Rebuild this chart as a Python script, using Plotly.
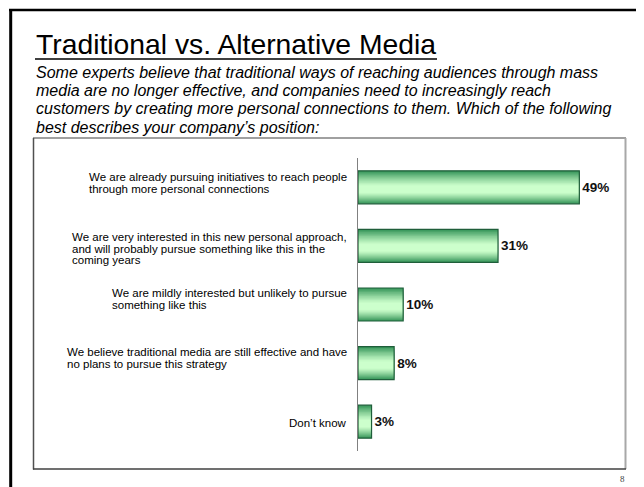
import plotly.graph_objects as go

# ---------------- data ----------------
categories = [
    "We are already pursuing initiatives to reach people|through more personal connections",
    "We are very interested in this new personal approach,|and will probably pursue something like this in the|coming years",
    "We are mildly interested but unlikely to pursue|something like this",
    "We believe traditional media are still effective and have|no plans to pursue this strategy",
    "Don’t know",
]
values = [49, 31, 10, 8, 3]

title_text = "Traditional vs. Alternative Media"
subtitle_lines = [
    "Some experts believe that traditional ways of reaching audiences through mass",
    "media are no longer effective, and companies need to increasingly reach",
    "customers by creating more personal connections to them. Which of the following",
    "best describes your company’s position:",
]
page_number = "8"

# ---------------- layout geometry (window pixels) ----------------
FW, FH = 644, 487
OFF = 8  # default page body margin
WL, WR, WT, WB = 358, 620, 158, 451
L, R, T, B = WL - OFF, WR - OFF, WT - OFF, WB - OFF
FONT = "Liberation Sans, Arial, sans-serif"
# small vertical nudges (px, up positive) of the slide's hand-placed label boxes
label_nudge = [4, -3, 6, 5, -1]


def fx(px):
    return (px - WL) / (WR - WL)


def fy(py):
    return (WB - py) / (WB - WT)


cat_keys = [c.replace("|", " ") for c in categories]

fig = go.Figure()

# gradient bars built from overlaid layers
W = 0.563
N = 14
light = (204, 255, 204)
dark = (58, 152, 92)


def shade(t):
    if t <= 0.22:
        c = light
    else:
        s = ((t - 0.22) / 0.78) ** 1.2
        c = [round(light[k] + (dark[k] - light[k]) * s) for k in range(3)]
    return f"rgb({c[0]},{c[1]},{c[2]})"


for i in range(N):
    w = W * (1 - i / N)
    t = 1 - i / N
    fig.add_trace(go.Bar(
        x=values, y=cat_keys, orientation="h",
        width=w, offset=-W / 2 + (W - w) * 0.57,
        marker=dict(color=shade(t), line=dict(width=0)),
        hoverinfo="skip", showlegend=False,
    ))

# outline + value labels on top
fig.add_trace(go.Bar(
    x=values, y=cat_keys, orientation="h",
    width=W, offset=-W / 2,
    marker=dict(color="rgba(0,0,0,0)", line=dict(width=1.2, color="#1f5e3a")),
    texttemplate="<b>%{x}%</b>", textposition="outside",
    textfont=dict(family=FONT, size=13.5, color="#111111"),
    cliponaxis=False, hoverinfo="skip", showlegend=False,
))

annotations = []
# category labels (block right-aligned, lines left-aligned)
for key, raw, nud in zip(cat_keys, categories, label_nudge):
    lines = raw.split("|")
    txt = "<br>".join(f"<span style='font-size:11.5px'>{ln}</span>" for ln in lines)
    annotations.append(dict(
        text=txt, xref="paper", x=fx(349), xanchor="right", align="left",
        yref="y", y=key, yanchor="middle", yshift=nud, showarrow=False,
        font=dict(family=FONT, size=9, color="#000000"),
    ))

# title
annotations.append(dict(
    text=title_text, xref="paper", yref="paper", x=fx(34), y=fy(44.5),
    xanchor="left", yanchor="middle", showarrow=False,
    font=dict(family=FONT, size=28.3, color="#000000"),
))
# subtitle lines
for i, ln in enumerate(subtitle_lines):
    annotations.append(dict(
        text=f"<i>{ln}</i>", xref="paper", yref="paper", x=fx(34),
        y=fy(72 + 18.35 * i), xanchor="left", yanchor="middle", showarrow=False,
        font=dict(family=FONT, size=16, color="#000000"),
    ))
# page number
annotations.append(dict(
    text=page_number, xref="paper", yref="paper", x=fx(622), y=fy(479),
    xanchor="center", yanchor="middle", showarrow=False,
    font=dict(family="Liberation Serif, Times New Roman, serif", size=9, color="#444444"),
))


def hline(x0, x1, y, color, width):
    return dict(type="line", xref="paper", yref="paper", x0=fx(x0), x1=fx(x1),
                y0=fy(y), y1=fy(y), line=dict(color=color, width=width), layer="above")


def vline(x, y0, y1, color, width):
    return dict(type="line", xref="paper", yref="paper", x0=fx(x), x1=fx(x),
                y0=fy(y0), y1=fy(y1), line=dict(color=color, width=width), layer="above")


shapes = [
    # slide frame
    hline(9, 700, 10, "#000000", 2.5),
    vline(10.7, 9, 540, "#000000", 3),
    # title underline
    hline(35, 437, 59, "#000000", 1.3),
    # chart box
    hline(33, 626, 138, "#a0a0a0", 2),
    vline(625.5, 138, 469, "#a8a8a8", 2),
    vline(33.5, 138, 469.5, "#505050", 1.5),
    hline(33, 626, 469, "#404040", 1.5),
]

fig.update_layout(
    width=FW, height=FH,
    margin=dict(l=L, r=FW - R, t=T, b=FH - B, pad=0),
    paper_bgcolor="white", plot_bgcolor="white",
    barmode="overlay",
    showlegend=False,
    xaxis=dict(range=[0, 58], visible=False, fixedrange=True),
    yaxis=dict(type="category", categoryorder="array", categoryarray=cat_keys,
               autorange="reversed", showticklabels=False, showgrid=False,
               zeroline=False, showline=True, linecolor="#808080", linewidth=1,
               ticks="", fixedrange=True),
    annotations=annotations,
    shapes=shapes,
    font=dict(family=FONT),
)

fig.write_html("out.html")
